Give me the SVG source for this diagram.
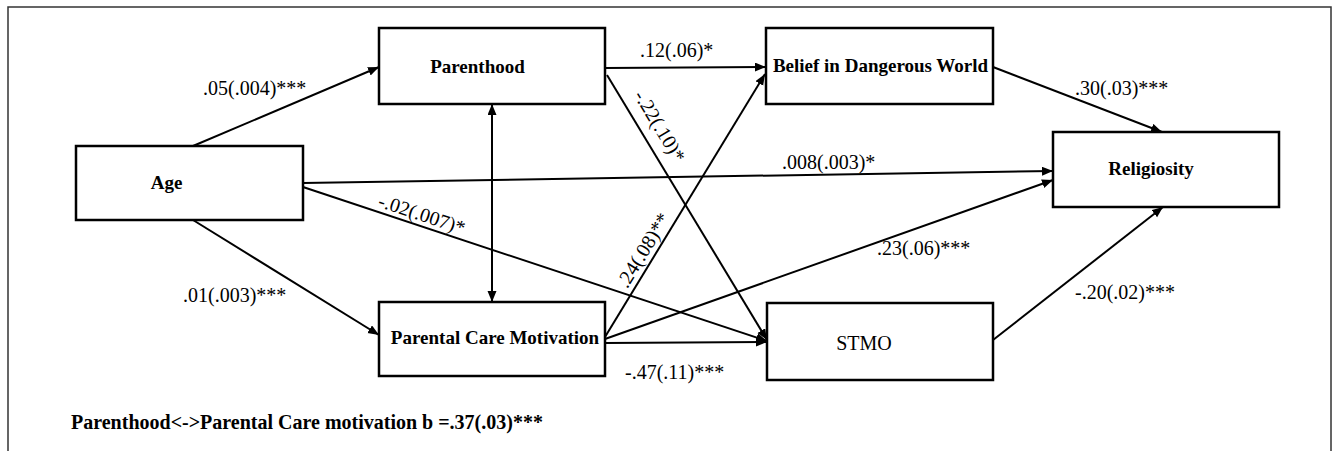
<svg xmlns="http://www.w3.org/2000/svg" width="1343" height="451" viewBox="0 0 1343 451">
<style>
.box{fill:#fff;stroke:#000;stroke-width:2.5}
.node{font-family:"Liberation Serif","Times New Roman",serif;font-size:19px;font-weight:bold;fill:#000;text-anchor:middle}
.nodeR{font-family:"Liberation Serif","Times New Roman",serif;font-size:20px;fill:#000;text-anchor:middle}
.lbl{font-family:"Liberation Serif","Times New Roman",serif;font-size:20px;fill:#000}
.c{fill:none;stroke:#000;stroke-width:2;marker-end:url(#ah)}
</style>
<defs>
<marker id="ah" markerUnits="userSpaceOnUse" markerWidth="12" markerHeight="10" refX="11" refY="4.5" orient="auto-start-reverse">
<path d="M0,0 L11,4.5 L0,9 z" fill="#000"/>
</marker>
</defs>
<rect x="8" y="7" width="1323" height="460" fill="#fff" stroke="#333" stroke-width="1.5"/>
<g id="connectors">
<line class="c" x1="193" y1="146" x2="379" y2="67"/>
<line class="c" x1="193" y1="220" x2="379" y2="335"/>
<line class="c" x1="303" y1="183" x2="1053" y2="171"/>
<line class="c" x1="303" y1="187" x2="767" y2="341"/>
<line class="c" x1="605" y1="68" x2="766" y2="67"/>
<line class="c" x1="607" y1="75" x2="767" y2="340"/>
<line class="c" x1="605" y1="337" x2="765" y2="74"/>
<line class="c" x1="605" y1="339" x2="1053" y2="180"/>
<line class="c" x1="605" y1="343" x2="767" y2="342"/>
<line class="c" x1="993" y1="67" x2="1162" y2="132"/>
<line class="c" x1="993" y1="340" x2="1163" y2="207"/>
<line class="c" x1="492" y1="302" x2="492" y2="104" marker-start="url(#ah)"/>
<text class="lbl" x="203" y="95">.05(.004)***</text>
<text class="lbl" x="183" y="302">.01(.003)***</text>
<text class="lbl" x="640" y="57">.12(.06)*</text>
<text class="lbl" x="782" y="169">.008(.003)*</text>
<text class="lbl" x="877" y="255">.23(.06)***</text>
<text class="lbl" x="625" y="379">-.47(.11)***</text>
<text class="lbl" x="1075" y="95">.30(.03)***</text>
<text class="lbl" x="1075" y="299">-.20(.02)***</text>
<text class="lbl" text-anchor="middle" dominant-baseline="central" transform="translate(660,126) rotate(58.9)">-.22(.10)*</text>
<text class="lbl" text-anchor="middle" dominant-baseline="central" transform="translate(643,250) rotate(-58.4)">.24(.08)**</text>
<text class="lbl" text-anchor="middle" dominant-baseline="central" transform="translate(422,214) rotate(18.4)">-.02(.007)*</text>
</g>
<g id="age"><rect class="box" x="76" y="146" width="227" height="74"/><text class="node" x="166.5" y="189">Age</text></g>
<g id="parenthood"><rect class="box" x="379" y="28" width="226" height="76"/><text class="node" x="477.5" y="73">Parenthood</text></g>
<g id="pcm"><rect class="box" x="379" y="302" width="226" height="74"/><text class="node" x="495" y="344">Parental Care Motivation</text></g>
<g id="bdw"><rect class="box" x="766" y="28" width="227" height="76"/><text class="node" x="880.5" y="72">Belief in Dangerous World</text></g>
<g id="religiosity"><rect class="box" x="1053" y="132" width="226" height="75"/><text class="node" x="1151" y="175">Religiosity</text></g>
<g id="stmo"><rect class="box" x="767" y="303" width="226" height="77"/><text class="nodeR" x="864" y="350">STMO</text></g>
<text class="lbl" font-weight="bold" font-size="19" x="71" y="429">Parenthood&lt;-&gt;Parental Care motivation b =.37(.03)***</text>
</svg>
